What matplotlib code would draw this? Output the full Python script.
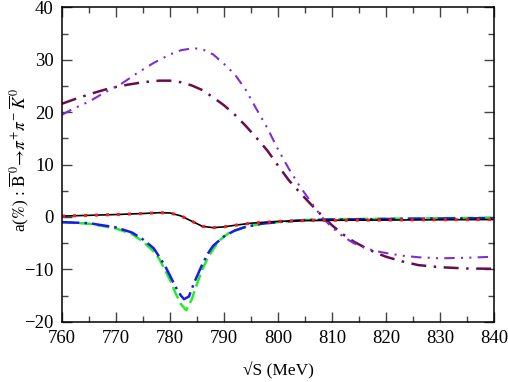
import matplotlib
matplotlib.use('Agg')
import matplotlib.pyplot as plt

# === DATA ===
x_black = [760, 765, 770, 775, 778, 780, 782, 784, 786, 788, 790, 792, 795, 800, 805, 810, 820, 830, 840]
y_black = [0.15, 0.3, 0.45, 0.65, 0.8, 0.75, 0.2, -0.8, -1.8, -2.05, -1.9, -1.6, -1.2, -0.85, -0.7, -0.65, -0.6, -0.55, -0.5]

x_blue = [760, 765, 770, 773, 775, 777, 779, 780, 781, 782, 782.6, 783.5, 784.5, 786, 787, 788, 790, 792, 794, 797, 801, 805, 810, 820, 830, 840]
y_blue = [-1.0, -1.2, -2.0, -3.0, -4.3, -6.0, -9.2, -11.2, -13.3, -15.0, -15.7, -15.2, -12.5, -9.0, -7.0, -5.5, -3.7, -2.6, -1.9, -1.3, -0.9, -0.6, -0.5, -0.4, -0.3, -0.25]

x_green = [760, 765, 770, 773, 775, 777, 778, 780, 781, 782, 783, 784, 785, 786, 787, 789, 791, 794, 797, 801, 805, 810, 820, 830, 840]
y_green = [-1.0, -1.3, -2.2, -3.3, -4.7, -6.6, -8.0, -12.0, -14.5, -16.6, -17.8, -15.8, -12.8, -10.0, -7.8, -4.6, -3.0, -1.9, -1.3, -0.9, -0.6, -0.45, -0.35, -0.25, -0.15]

x_purple = [760, 762, 765, 768, 771, 774, 777, 780, 782, 784.3, 786, 788, 790, 792, 794, 796, 798, 800, 802, 804, 806, 808,
            810, 812, 814, 816, 818, 820, 823, 826, 830, 835, 840]
y_purple = [19.5, 20.6, 22.0, 23.8, 25.4, 27.5, 29.4, 31.0, 31.8, 32.2, 32.0, 31.0, 29.2, 27.2, 24.3, 20.6, 17.0, 12.9, 9.2, 5.9, 3.0, 0.1,
            -2.0, -3.7, -5.0, -5.9, -6.5, -6.9, -7.4, -7.7, -7.9, -7.8, -7.6]

x_maroon = [760, 763, 766, 769, 772, 775, 778, 780, 782, 784, 786, 788, 790, 792, 794, 796, 798, 800, 802, 804, 806, 808,
            810, 812, 814, 816, 818, 820, 823, 826, 830, 835, 840]
y_maroon = [21.6, 22.7, 23.7, 24.6, 25.2, 25.7, 26.0, 26.0, 25.7, 25.1, 24.2, 22.8, 21.3, 19.5, 17.4, 15.1, 12.7, 9.8, 7.0, 4.7, 2.5, 0.4,
            -1.6, -3.3, -4.7, -5.8, -6.8, -7.6, -8.5, -9.2, -9.6, -9.85, -9.9]

x_ticks = [760, 770, 780, 790, 800, 810, 820, 830, 840]
y_ticks = [-20, -10, 0, 10, 20, 30, 40]

# === STYLE ===
plt.rcParams['font.family'] = ['Liberation Serif', 'DejaVu Serif']
plt.rcParams['mathtext.fontset'] = 'stix'
plt.rcParams['font.size'] = 11

fig = plt.figure(figsize=(5.08, 3.82), dpi=100)
ax = fig.add_axes([62 / 508, 1 - 321.7 / 382, 432 / 508, 314.4 / 382])

ax.plot(x_maroon, y_maroon, color='#6a0d4c', lw=1.8, dashes=(6, 3, 1, 3))
ax.plot(x_purple, y_purple, color='#7c2fd6', lw=1.5, dashes=(5, 3, 1, 3, 1, 3))
ax.plot(x_green, y_green, color='#22ee22', lw=1.8, dashes=(5, 2))
ax.plot(x_blue, y_blue, color='#1a1aee', lw=1.8, dashes=(7, 2, 1, 2))
ax.plot(x_black, y_black, color='black', lw=1.2)
ax.plot(x_black, y_black, color='#ff1a1a', lw=2.2, dashes=(1, 2.6), dash_capstyle='butt')

ax.set_xlim(760, 840)
ax.set_ylim(-20, 40)
ax.set_xticks(x_ticks)
ax.set_yticks(y_ticks)
ax.set_xticks(range(765, 840, 10), minor=True)
ax.set_yticks(range(-15, 40, 10), minor=True)
ax.tick_params(which='both', direction='in', top=True, right=True, color='#444444', labelsize=13.5)
ax.tick_params(axis='x', which='major', pad=6)
ax.tick_params(axis='y', which='major', pad=6)
ax.tick_params(which='major', length=7, width=1)
ax.tick_params(which='minor', length=4, width=1)
for s in ax.spines.values():
    s.set_linewidth(1.1)

ax.set_xlabel('\u221aS (MeV)', fontsize=12.5, va='center')
ax.xaxis.set_label_coords(0.5, (321.7 - 371) / 314.4)
ax.set_ylabel(r'a($\%$) : $\overline{\mathrm{B}}^{\,0}\!\rightarrow\!\pi^{+}\pi^{-}\,\overline{K}^{\,0}$',
              fontsize=12.5, va='center')
ax.yaxis.set_label_coords((19 - 62) / 432, (321.7 - 160) / 314.4)

fig.savefig('out.png', dpi=100)
